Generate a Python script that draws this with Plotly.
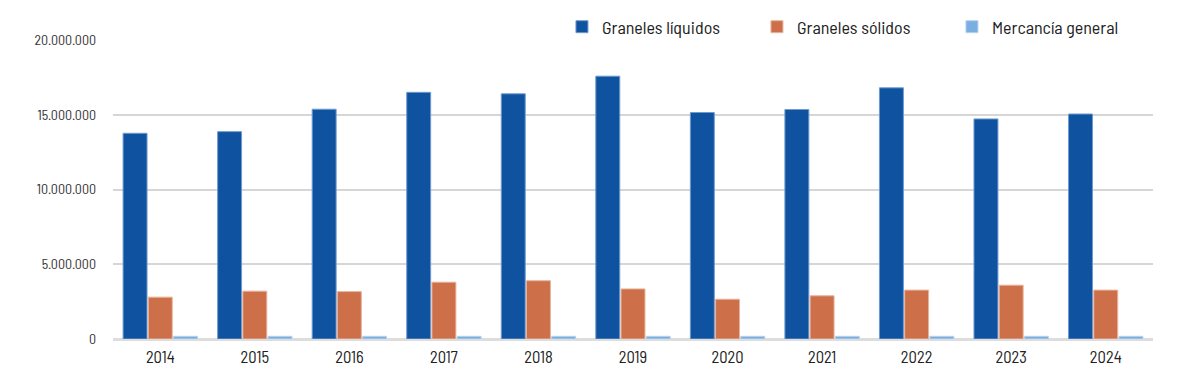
import plotly.graph_objects as go

years = ["2014", "2015", "2016", "2017", "2018", "2019", "2020", "2021", "2022", "2023", "2024"]
graneles_liquidos = [13760000, 13870000, 15370000, 16500000, 16400000, 17580000, 15150000, 15350000, 16800000, 14720000, 15050000]
graneles_solidos = [2800000, 3200000, 3170000, 3800000, 3900000, 3350000, 2660000, 2890000, 3270000, 3600000, 3270000]
mercancia_general = [180000, 180000, 180000, 180000, 180000, 180000, 180000, 180000, 180000, 180000, 180000]

series_names = ["Graneles líquidos", "Graneles sólidos", "Mercancía general"]
colors = ["#0F52A0", "#CD704A", "#7AAEE0"]
edges = ["#6E9BCF", "#E8B39C", "#B5D2F0"]

FONT = "Barlow Semi Condensed, Roboto Condensed, sans-serif"

fig = go.Figure()
for name, vals, c, e in zip(series_names, [graneles_liquidos, graneles_solidos, mercancia_general], colors, edges):
    fig.add_trace(go.Bar(
        x=years, y=vals, name=name,
        marker=dict(color=c, line=dict(color=e, width=1)),
    ))

fig.update_layout(
    width=1200, height=390,
    margin=dict(l=105, r=55, t=32, b=59, autoexpand=False),
    paper_bgcolor="white", plot_bgcolor="white",
    separators=",.",
    barmode="group", bargap=0.2, bargroupgap=0.05,
    font=dict(family=FONT, size=16, color="#333333"),
    legend=dict(
        orientation="h", x=0.4317, xanchor="left", y=1.0435, yanchor="middle",
        font=dict(family=FONT, size=18, color="#222222"),
        entrywidth=150, entrywidthmode="pixels",
        bgcolor="rgba(0,0,0,0)",
    ),
    xaxis=dict(
        showgrid=False, showline=False, ticks="", tickfont=dict(size=16.5, color="#222222"),
        ticklabelstandoff=6,
    ),
    yaxis=dict(
        range=[0, 20000000], tickvals=[0, 5000000, 10000000, 15000000, 20000000],
        tickformat=",d", showgrid=True, gridcolor="#d6d6d6", gridwidth=2,
        zeroline=True, zerolinecolor="#dddddd", zerolinewidth=3,
        showline=False, ticks="", ticklabelstandoff=16,
        tickfont=dict(size=14, color="#333333"),
    ),
)

fig.write_html("out.html")
